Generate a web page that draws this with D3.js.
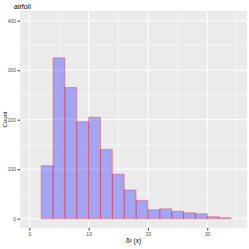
<!DOCTYPE html>
<html>
<head>
<meta charset="utf-8">
<script src="https://cdn.jsdelivr.net/npm/d3@7"></script>
<style>
  body { margin: 0; background: #fff; }
  svg { display: block; }
  text { font-family: "Liberation Sans", Arial, sans-serif; }
</style>
</head>
<body>
<svg id="chart" width="249" height="249"></svg>
<script>
// histogram bins (width 2) and counts
const binStarts = [0, 2, 4, 6, 8, 10, 12, 14, 16, 18, 20, 22, 24, 26, 28, 30, 32];
const counts = [0, 107, 325, 265, 196, 205, 140, 90, 58, 37, 18, 20, 15, 12, 10, 4, 2];
const binWidth = 2;
const xTicks = [0, 10, 20, 30];
const xMinor = [5, 15, 25, 35];
const yTicks = [0, 100, 200, 300, 400];
const yMinor = [50, 150, 250, 350];

const svg = d3.select('#chart');
const margin = ({top: 11, right: 2, bottom: 21, left: 20});
const width = +svg.attr('width');
const height = +svg.attr('height');
const innerWidth = width - margin.left - margin.right;
const innerHeight = height - margin.top - margin.bottom;

const data = binStarts.map((b, i) => ({x0: b, x1: b + binWidth, n: counts[i]}));

const x = d3.scaleLinear()
  .domain([-1.57, 36.7])
  .range([0, innerWidth]);

const y = d3.scaleLinear()
  .domain([-18.8, 419.6])
  .range([innerHeight, 0]);

const g = svg.append('g')
  .attr('transform', `translate(${margin.left},${margin.top})`);

g.append('rect')
  .attr('width', innerWidth)
  .attr('height', innerHeight)
  .attr('fill', '#EBEBEB');

// grid
g.selectAll('.ymin').data(yMinor).enter().append('line')
  .attr('x1', 0).attr('x2', innerWidth)
  .attr('y1', d => y(d)).attr('y2', d => y(d))
  .attr('stroke', '#fff').attr('stroke-width', 0.5);
g.selectAll('.xmin').data(xMinor).enter().append('line')
  .attr('y1', 0).attr('y2', innerHeight)
  .attr('x1', d => x(d)).attr('x2', d => x(d))
  .attr('stroke', '#fff').attr('stroke-width', 0.5);
g.selectAll('.ymaj').data(yTicks).enter().append('line')
  .attr('x1', 0).attr('x2', innerWidth)
  .attr('y1', d => y(d)).attr('y2', d => y(d))
  .attr('stroke', '#fff').attr('stroke-width', 1);
g.selectAll('.xmaj').data(xTicks).enter().append('line')
  .attr('y1', 0).attr('y2', innerHeight)
  .attr('x1', d => x(d)).attr('x2', d => x(d))
  .attr('stroke', '#fff').attr('stroke-width', 1);

// bars
g.selectAll('.bar').data(data).enter().append('rect')
  .attr('x', d => x(d.x0))
  .attr('y', d => y(d.n))
  .attr('width', d => x(d.x1) - x(d.x0))
  .attr('height', d => y(0) - y(d.n))
  .attr('fill', 'rgba(0,0,255,0.3)')
  .attr('stroke', 'rgba(255,0,0,0.3)')
  .attr('stroke-width', 1);

// axes
const xAxis = g.append('g')
  .attr('transform', `translate(0,${innerHeight})`)
  .call(d3.axisBottom(x).tickValues(xTicks).tickSize(2.5).tickPadding(1.5));
xAxis.select('.domain').remove();
xAxis.selectAll('.tick line').attr('stroke', '#333');
xAxis.selectAll('text').attr('fill', '#4D4D4D').style('font-size', '5px')
  .style('font-family', '"Liberation Sans", Arial, sans-serif');

const yAxis = g.append('g')
  .call(d3.axisLeft(y).tickValues(yTicks).tickSize(2.5).tickPadding(1.5));
yAxis.select('.domain').remove();
yAxis.selectAll('.tick line').attr('stroke', '#333');
yAxis.selectAll('text').attr('fill', '#4D4D4D').style('font-size', '5px')
  .style('font-family', '"Liberation Sans", Arial, sans-serif');

// labels
svg.append('text')
  .attr('x', margin.left + innerWidth / 2)
  .attr('y', 243)
  .attr('text-anchor', 'middle')
  .style('font-size', '6.5px')
  .attr('fill', '#000')
  .text('δ² (x)');

svg.append('text')
  .attr('transform', `translate(7,${margin.top + innerHeight / 2}) rotate(-90)`)
  .attr('text-anchor', 'middle')
  .style('font-size', '6px')
  .attr('fill', '#000')
  .text('Count');

svg.append('text')
  .attr('x', 14)
  .attr('y', 8.5)
  .style('font-size', '7px')
  .attr('fill', '#000')
  .text('airfoil');
</script>
</body>
</html>
